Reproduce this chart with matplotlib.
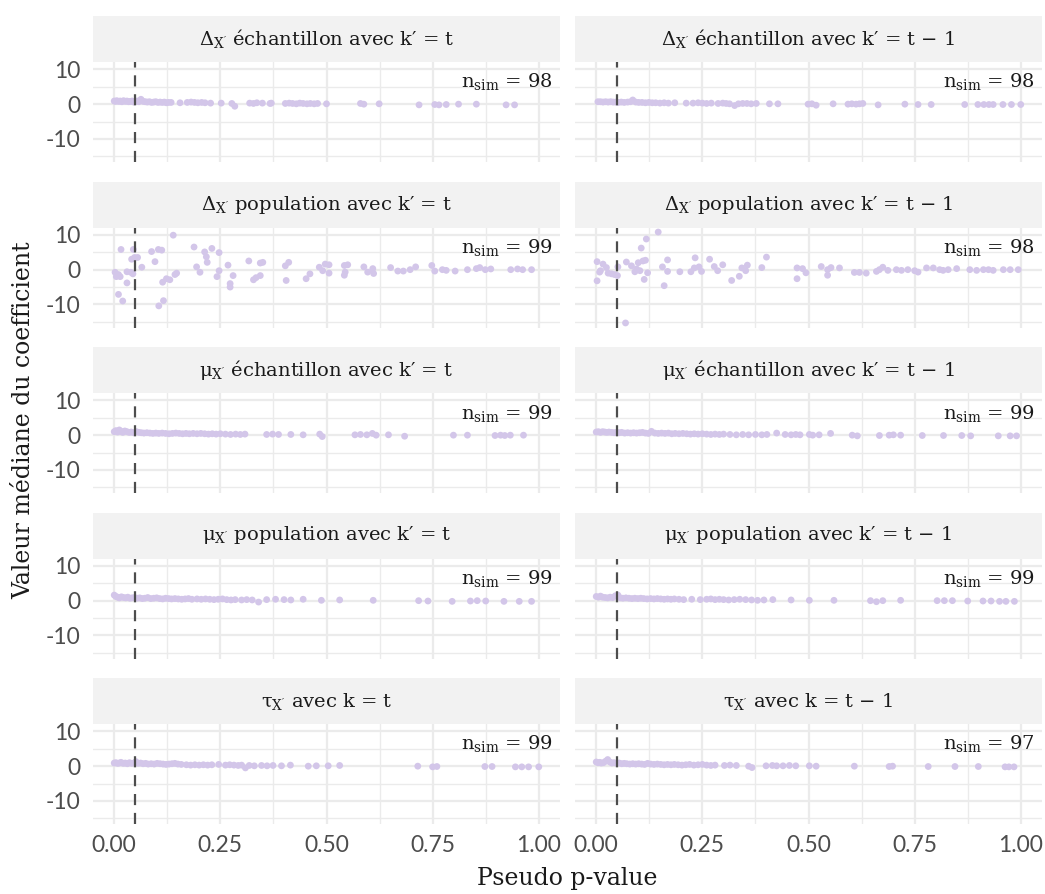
import matplotlib
matplotlib.use("Agg")
import matplotlib.pyplot as plt

plt.rcParams['mathtext.fontset'] = 'custom'
plt.rcParams['mathtext.rm'] = 'DejaVu Serif'
plt.rcParams['mathtext.it'] = 'DejaVu Serif:italic'

# ---- data: (pseudo p-value, median coefficient) per panel ----
dx_ech_t_x = [0.000, 0.003, 0.006, 0.010, 0.014, 0.018, 0.022, 0.026, 0.030, 0.034,
              0.038, 0.042, 0.046, 0.050, 0.054, 0.058, 0.063, 0.068, 0.073, 0.078,
              0.083, 0.088, 0.093, 0.098, 0.103, 0.108, 0.113, 0.118, 0.123, 0.128,
              0.134, 0.155, 0.172, 0.181, 0.189, 0.197, 0.206, 0.214, 0.227, 0.252,
              0.277, 0.284, 0.319, 0.328, 0.336, 0.349, 0.367, 0.370, 0.403, 0.412,
              0.420, 0.429, 0.437, 0.445, 0.454, 0.462, 0.471, 0.479, 0.500, 0.580,
              0.588, 0.624, 0.718, 0.755, 0.765, 0.782, 0.811, 0.853, 0.923, 0.943]
dx_ech_t_y = [0.9, 0.8, 1.0, 0.8, 0.9, 0.7, 1.0, 0.8, 0.9, 0.7,
              0.8, 0.9, 0.6, 0.8, 0.9, 0.7, 1.4, 0.8, 0.7, 0.6,
              0.7, 0.5, 0.6, 0.7, 0.5, 0.6, 0.5, 0.6, 0.4, 0.5,
              0.5, 0.4, 0.5, 0.6, 0.5, 0.4, 0.5, 0.4, 0.3, 0.3,
              0.2, -0.6, 0.3, 0.2, 0.4, 0.3, 0.2, 0.3, 0.2, 0.3,
              0.2, 0.1, 0.3, 0.2, 0.1, 0.2, 0.1, 0.2, 0.1, 0.2,
              0.0, 0.1, -0.2, -0.1, -0.2, -0.1, 0.0, 0.0, -0.2, -0.2]

dx_ech_t1_x = [0.004, 0.010, 0.016, 0.022, 0.028, 0.034, 0.040, 0.046, 0.052, 0.059,
               0.066, 0.074, 0.081, 0.086, 0.093, 0.100, 0.108, 0.116, 0.124, 0.132,
               0.140, 0.150, 0.160, 0.170, 0.185, 0.212, 0.228, 0.240, 0.250, 0.260,
               0.271, 0.287, 0.298, 0.306, 0.314, 0.326, 0.335, 0.345, 0.355, 0.365,
               0.377, 0.408, 0.428, 0.499, 0.508, 0.518, 0.558, 0.593, 0.602, 0.612,
               0.620, 0.628, 0.664, 0.727, 0.758, 0.789, 0.868, 0.899, 0.913, 0.925,
               0.935, 0.958, 0.978, 1.000]
dx_ech_t1_y = [0.7, 0.7, 0.6, 0.7, 0.6, 0.7, 0.6, 0.6, 0.5, 0.6,
               0.5, 0.6, 0.7, 1.2, 0.6, 0.5, 0.5, 0.4, 0.5, 0.4,
               0.4, 0.3, 0.4, 0.3, 0.4, 0.3, 0.3, 0.4, 0.3, 0.2,
               0.3, 0.2, 0.3, 0.2, 0.1, -0.4, 0.1, 0.2, 0.2, 0.1,
               0.2, 0.1, 0.1, 0.0, 0.1, -0.3, 0.1, 0.0, 0.1, 0.0,
               0.1, 0.2, -0.2, 0.0, -0.1, -0.1, -0.1, -0.1, -0.1, -0.1,
               -0.1, -0.1, -0.1, -0.1]

dx_pop_t_x = [0.002, 0.005, 0.010, 0.014, 0.010, 0.016, 0.020, 0.030, 0.030, 0.039,
              0.041, 0.044, 0.045, 0.048, 0.055, 0.065, 0.088, 0.096, 0.104, 0.112,
              0.105, 0.116, 0.114, 0.123, 0.131, 0.139, 0.143, 0.147, 0.188, 0.194,
              0.202, 0.213, 0.217, 0.219, 0.230, 0.247, 0.247, 0.242, 0.268, 0.280,
              0.273, 0.273, 0.317, 0.328, 0.334, 0.344, 0.344, 0.350, 0.405, 0.403,
              0.411, 0.452, 0.461, 0.483, 0.491, 0.497, 0.506, 0.506, 0.542, 0.550,
              0.542, 0.544, 0.588, 0.597, 0.609, 0.611, 0.651, 0.668, 0.681, 0.697,
              0.710, 0.748, 0.755, 0.773, 0.782, 0.803, 0.832, 0.853, 0.861, 0.874,
              0.887, 0.934, 0.950, 0.962, 0.983]
dx_pop_t_y = [-0.75, -2.0, -1.4, -2.0, -7.1, 5.8, -9.0, -0.6, -3.8, -0.75,
              3.0, -1.2, 5.8, 3.5, 3.5, 0.7, 5.2, 2.3, 5.8, 5.6,
              -10.4, -8.9, -3.6, -2.6, -2.9, 9.9, -1.4, -1.0, 6.5, 0.8,
              -0.75, 5.1, 3.7, 2.1, 6.1, 4.9, -0.3, -2.0, 1.3, -1.7,
              -4.0, -5.0, 2.5, -2.9, -2.3, -1.7, 1.9, 2.1, -3.1, 1.1,
              2.1, -2.6, -1.2, 0.7, -0.3, 1.6, -1.0, 1.4, 1.2, 1.4,
              -1.6, -0.7, 0.8, -0.7, 0.3, -1.1, 0.6, -0.4, -0.4, 0.0,
              0.8, 1.2, -0.4, 0.0, -0.2, -0.4, 0.0, 0.3, 0.6, 0.0,
              0.2, 0.0, 0.2, 0.0, 0.0]

dx_pop_t1_x = [0.002, 0.002, 0.008, 0.010, 0.016, 0.024, 0.028, 0.036, 0.043, 0.050,
               0.051, 0.069, 0.071, 0.083, 0.091, 0.095, 0.099, 0.103, 0.106, 0.110,
               0.113, 0.116, 0.118, 0.121, 0.146, 0.156, 0.160, 0.168, 0.168, 0.197,
               0.223, 0.231, 0.233, 0.242, 0.248, 0.267, 0.278, 0.286, 0.298, 0.319,
               0.337, 0.343, 0.352, 0.356, 0.390, 0.401, 0.473, 0.473, 0.486, 0.494,
               0.530, 0.545, 0.545, 0.553, 0.573, 0.608, 0.620, 0.636, 0.660, 0.667,
               0.675, 0.687, 0.707, 0.719, 0.734, 0.750, 0.758, 0.778, 0.794, 0.809,
               0.817, 0.829, 0.849, 0.880, 0.896, 0.912, 0.924, 0.935, 0.959, 0.975,
               0.994]
dx_pop_t1_y = [2.3, -3.2, -0.7, -0.3, 1.6, 0.6, -1.0, -1.2, -1.4, -1.7,
               0.8, -15.3, 2.2, 1.1, -0.6, 0.2, 2.0, -0.3, 6.2, 2.5,
               -2.8, 2.7, 8.8, -0.9, 10.8, 0.8, -4.6, 2.8, -0.5, -0.6,
               -0.6, 0.5, 3.4, 0.8, -0.5, 3.0, 0.9, -0.3, 1.4, -3.1,
               -1.9, 0.5, -0.3, 1.3, 0.6, 3.6, 0.5, -2.6, 0.3, -0.9,
               0.9, 0.0, -1.6, 0.6, 0.5, -0.8, -0.8, -1.0, -0.5, 0.0,
               0.7, -0.2, 0.0, -0.2, 0.0, -0.3, -0.7, 0.5, 0.5, 0.0,
               -0.2, 0.0, 0.3, 0.0, -0.2, 0.0, 0.0, -0.2, 0.0, 0.0,
               0.0]

mu_ech_t_x = [0.000, 0.004, 0.008, 0.012, 0.016, 0.020, 0.025, 0.030, 0.035, 0.040,
              0.046, 0.052, 0.058, 0.064, 0.070, 0.077, 0.084, 0.091, 0.098, 0.105,
              0.113, 0.121, 0.129, 0.137, 0.145, 0.153, 0.161, 0.169, 0.177, 0.186,
              0.195, 0.204, 0.213, 0.222, 0.231, 0.240, 0.250, 0.262, 0.274, 0.286,
              0.297, 0.308, 0.359, 0.373, 0.387, 0.416, 0.445, 0.484, 0.490, 0.567,
              0.580, 0.595, 0.608, 0.617, 0.646, 0.684, 0.799, 0.832, 0.897, 0.910,
              0.920, 0.933, 0.964]
mu_ech_t_y = [1.0, 1.3, 0.9, 1.5, 1.1, 0.8, 1.2, 1.0, 0.8, 0.9,
              0.7, 1.0, 0.8, 0.7, 0.6, 0.7, 0.6, 0.5, 0.6, 0.5,
              0.6, 0.5, 0.4, 0.5, 0.6, 0.5, 0.4, 0.5, 0.4, 0.5,
              0.4, 0.5, 0.4, 0.3, 0.4, 0.3, 0.4, 0.3, 0.2, 0.3,
              0.2, 0.3, 0.2, 0.3, 0.2, 0.2, 0.1, 0.3, -0.4, 0.1,
              0.2, 0.1, 0.5, 0.0, 0.1, -0.3, 0.0, 0.0, -0.1, 0.0,
              -0.1, 0.0, 0.0]

mu_ech_t1_x = [0.000, 0.005, 0.010, 0.015, 0.020, 0.025, 0.030, 0.036, 0.042, 0.048,
               0.054, 0.060, 0.067, 0.074, 0.081, 0.088, 0.095, 0.102, 0.109, 0.116,
               0.123, 0.130, 0.138, 0.146, 0.154, 0.162, 0.170, 0.178, 0.186, 0.195,
               0.204, 0.213, 0.222, 0.231, 0.240, 0.250, 0.260, 0.270, 0.280, 0.290,
               0.300, 0.315, 0.330, 0.345, 0.359, 0.375, 0.390, 0.402, 0.425, 0.445,
               0.459, 0.470, 0.480, 0.502, 0.510, 0.525, 0.552, 0.603, 0.615, 0.667,
               0.690, 0.700, 0.717, 0.768, 0.818, 0.861, 0.882, 0.947, 0.975, 0.990]
mu_ech_t1_y = [0.9, 1.0, 0.8, 1.0, 0.9, 0.8, 0.9, 0.8, 0.7, 0.8,
               0.7, 0.8, 0.6, 0.7, 0.6, 0.7, 0.6, 0.7, 0.8, 0.6,
               0.5, 1.1, 0.6, 0.5, 0.6, 0.5, 0.6, 0.4, 0.5, 0.4,
               0.5, 0.4, 0.3, 0.4, 0.3, 0.4, 0.3, 0.2, 0.3, 0.2,
               0.3, 0.2, 0.1, 0.2, 0.1, 0.2, 0.1, 0.2, 0.6, 0.2,
               0.1, 0.2, 0.1, 0.2, 0.0, 0.1, 0.5, 0.0, -0.2, -0.1,
               0.0, 0.1, 0.0, -0.1, -0.1, -0.1, -0.2, -0.2, -0.2, -0.2]

mu_pop_t_x = [0.000, 0.004, 0.008, 0.012, 0.017, 0.022, 0.027, 0.032, 0.037, 0.042,
              0.048, 0.054, 0.060, 0.066, 0.072, 0.079, 0.086, 0.093, 0.100, 0.107,
              0.114, 0.121, 0.128, 0.135, 0.143, 0.151, 0.159, 0.167, 0.175, 0.183,
              0.195, 0.205, 0.215, 0.225, 0.235, 0.245, 0.255, 0.265, 0.275, 0.285,
              0.300, 0.312, 0.325, 0.340, 0.359, 0.380, 0.400, 0.416, 0.445, 0.488,
              0.531, 0.610, 0.717, 0.739, 0.796, 0.839, 0.855, 0.875, 0.918, 0.954,
              0.983]
mu_pop_t_y = [1.6, 1.2, 1.0, 0.8, 1.1, 0.9, 0.8, 1.0, 0.7, 0.8,
              0.9, 0.7, 0.8, 0.6, 0.7, 0.9, 0.6, 0.7, 0.8, 0.6,
              0.5, 0.7, 0.6, 0.5, 0.6, 0.5, 0.4, 0.5, 0.6, 0.4,
              0.5, 0.4, 0.5, 0.4, 0.3, 0.4, 0.5, 0.3, 0.2, 0.3,
              0.2, 0.3, 0.2, -0.4, 0.3, 0.4, 0.3, 0.2, 0.4, 0.1,
              0.2, 0.1, 0.0, -0.1, -0.2, -0.1, 0.0, -0.1, -0.2, -0.2,
              -0.2]

mu_pop_t1_x = [0.000, 0.005, 0.010, 0.015, 0.021, 0.027, 0.033, 0.039, 0.045, 0.051,
               0.057, 0.063, 0.070, 0.077, 0.084, 0.091, 0.098, 0.105, 0.112, 0.120,
               0.128, 0.136, 0.144, 0.152, 0.160, 0.168, 0.176, 0.184, 0.195, 0.206,
               0.225, 0.245, 0.260, 0.270, 0.280, 0.290, 0.300, 0.312, 0.325, 0.338,
               0.352, 0.366, 0.380, 0.395, 0.416, 0.459, 0.502, 0.560, 0.646, 0.660,
               0.675, 0.717, 0.803, 0.820, 0.839, 0.875, 0.911, 0.930, 0.950, 0.965,
               0.985]
mu_pop_t1_y = [1.2, 1.0, 1.3, 1.0, 0.9, 0.8, 1.0, 0.9, 1.4, 1.6,
               0.8, 0.7, 0.8, 0.7, 0.6, 0.7, 0.6, 0.7, 0.6, 0.5,
               0.6, 0.5, 0.6, 0.5, 0.4, 0.5, 0.4, 0.5, 0.4, 0.3,
               0.4, 0.3, 0.4, 0.5, 0.3, 0.4, 0.3, 0.2, 0.3, 0.4,
               0.3, 0.2, 0.1, 0.2, 0.3, 0.2, 0.1, 0.1, 0.0, -0.3,
               0.0, 0.1, 0.0, 0.0, 0.0, -0.1, -0.1, -0.1, -0.2, -0.2,
               -0.2]

tau_t_x = [0.000, 0.004, 0.008, 0.012, 0.016, 0.021, 0.026, 0.031, 0.036, 0.041,
           0.046, 0.051, 0.056, 0.062, 0.068, 0.074, 0.080, 0.087, 0.094, 0.101,
           0.108, 0.115, 0.122, 0.129, 0.136, 0.143, 0.150, 0.158, 0.170, 0.180,
           0.190, 0.200, 0.210, 0.220, 0.230, 0.246, 0.262, 0.272, 0.282, 0.292,
           0.300, 0.309, 0.318, 0.330, 0.347, 0.360, 0.374, 0.394, 0.415, 0.457,
           0.476, 0.504, 0.531, 0.715, 0.750, 0.760, 0.873, 0.890, 0.945, 0.960,
           0.976, 1.000]
tau_t_y = [0.9, 1.0, 0.8, 0.9, 1.1, 0.8, 0.9, 0.7, 1.0, 0.8,
           0.9, 1.3, 0.8, 0.9, 0.7, 0.8, 0.6, 0.7, 0.6, 0.8,
           0.7, 0.6, 0.5, 0.6, 0.7, 0.8, 0.6, 0.5, 0.4, 0.3,
           0.4, 0.3, 0.4, 0.3, 0.4, 0.5, 0.3, 0.4, 0.3, 0.2,
           0.3, -0.5, 0.2, 0.1, 0.2, 0.1, 0.2, 0.1, 0.3, 0.0,
           0.1, 0.1, 0.2, 0.0, -0.2, -0.1, -0.1, -0.1, -0.2, -0.2,
           -0.2, -0.2]

tau_t1_x = [0.000, 0.004, 0.008, 0.012, 0.017, 0.022, 0.027, 0.032, 0.037, 0.042,
            0.048, 0.054, 0.060, 0.066, 0.072, 0.079, 0.086, 0.093, 0.100, 0.107,
            0.114, 0.121, 0.128, 0.136, 0.144, 0.152, 0.160, 0.168, 0.176, 0.184,
            0.193, 0.202, 0.211, 0.220, 0.230, 0.240, 0.250, 0.260, 0.270, 0.280,
            0.302, 0.315, 0.330, 0.359, 0.367, 0.400, 0.415, 0.425, 0.440, 0.455,
            0.470, 0.502, 0.518, 0.608, 0.690, 0.698, 0.782, 0.845, 0.900, 0.963,
            0.972, 0.984]
tau_t1_y = [1.2, 1.0, 1.1, 0.9, 1.0, 1.4, 1.9, 1.2, 0.9, 1.0,
            0.8, 0.9, 0.7, 0.8, 0.7, 0.6, 0.7, 0.6, 0.7, 0.6,
            0.5, 0.8, 0.6, 0.5, 0.6, 0.5, 0.4, 0.5, 0.4, 0.5,
            0.4, 0.3, 0.4, 0.5, 0.3, 0.4, 0.5, 0.3, 0.2, 0.3,
            0.2, 0.3, 0.2, 0.0, -0.4, 0.1, 0.2, 0.1, 0.1, 0.2,
            0.1, 0.1, 0.0, 0.0, -0.1, 0.0, -0.1, -0.1, -0.1, -0.2,
            -0.2, -0.2]

titles = [
    r"$\mathrm{\Delta}_{\mathrm{X'}}$ échantillon avec k′ = t",
    r"$\mathrm{\Delta}_{\mathrm{X'}}$ échantillon avec k′ = t − 1",
    r"$\mathrm{\Delta}_{\mathrm{X'}}$ population avec k′ = t",
    r"$\mathrm{\Delta}_{\mathrm{X'}}$ population avec k′ = t − 1",
    r"$\mathrm{\mu}_{\mathrm{X'}}$ échantillon avec k′ = t",
    r"$\mathrm{\mu}_{\mathrm{X'}}$ échantillon avec k′ = t − 1",
    r"$\mathrm{\mu}_{\mathrm{X'}}$ population avec k′ = t",
    r"$\mathrm{\mu}_{\mathrm{X'}}$ population avec k′ = t − 1",
    r"$\mathrm{\tau}_{\mathrm{X'}}$ avec k = t",
    r"$\mathrm{\tau}_{\mathrm{X'}}$ avec k = t − 1",
]
n_sim = [98, 98, 99, 98, 99, 99, 99, 99, 99, 97]
xs = [dx_ech_t_x, dx_ech_t1_x, dx_pop_t_x, dx_pop_t1_x, mu_ech_t_x,
      mu_ech_t1_x, mu_pop_t_x, mu_pop_t1_x, tau_t_x, tau_t1_x]
ys = [dx_ech_t_y, dx_ech_t1_y, dx_pop_t_y, dx_pop_t1_y, mu_ech_t_y,
      mu_ech_t1_y, mu_pop_t_y, mu_pop_t1_y, tau_t_y, tau_t1_y]
threshold = 0.05

# shared y range with ggplot-like 5% expansion
all_y = [v for col in ys for v in col]
lo, hi = min(all_y), max(all_y)
pad = 0.05 * (hi - lo)
ylim = (lo - pad, hi + pad)

W, H = 1045, 894
fig = plt.figure(figsize=(W / 100, H / 100), dpi=100)

col_left = [93, 575]
panel_w = 467
strip_top0 = 16
pitch = 165.5
strip_h = 46
panel_h = 100

serif = 'DejaVu Serif'
grid_col = '#EBEBEB'
pt_col = '#D3C6E9'

for i in range(10):
    r, c = divmod(i, 2)
    x0 = col_left[c]
    st = strip_top0 + pitch * r
    # strip
    sax = fig.add_axes([x0 / W, 1 - (st + strip_h) / H, panel_w / W, strip_h / H])
    sax.set_facecolor('#F2F2F2')
    sax.set_xticks([]); sax.set_yticks([])
    for s in sax.spines.values():
        s.set_visible(False)
    sax.text(0.5, 0.5, titles[i], ha='center', va='center', fontsize=14,
             family=serif, color='#1A1A1A', transform=sax.transAxes)

    # panel
    ax = fig.add_axes([x0 / W, 1 - (st + strip_h + panel_h) / H, panel_w / W, panel_h / H])
    ax.scatter(xs[i], ys[i], s=24, color=pt_col, edgecolors='none', zorder=2)
    ax.axvline(threshold, color='#4D4D4D', lw=1.6, ls=(0, (5, 3.5)), zorder=3)
    ax.set_xlim(-0.05, 1.05)
    ax.set_ylim(*ylim)
    ax.set_xticks([0, 0.25, 0.5, 0.75, 1.0])
    ax.set_xticks([0.125, 0.375, 0.625, 0.875], minor=True)
    ax.set_yticks([-10, 0, 10])
    ax.set_yticks([-15, -5, 5], minor=True)
    ax.grid(which='major', color=grid_col, lw=1.6, zorder=0)
    ax.grid(which='minor', color=grid_col, lw=1.0, zorder=0)
    ax.set_axisbelow(True)
    for s in ax.spines.values():
        s.set_visible(False)
    ax.tick_params(which='both', length=0, labelsize=16.5, labelcolor='#4D4D4D')
    ax.tick_params(axis='y', pad=9)
    ax.tick_params(axis='x', pad=8)
    if c == 0:
        ax.set_yticklabels(['-10', '0', '10'], family='Lato')
    else:
        ax.set_yticklabels([])
    if r == 4:
        ax.set_xticklabels(['0.00', '0.25', '0.50', '0.75', '1.00'], family='Lato')
    else:
        ax.set_xticklabels([])
    ax.text(0.985, 0.80, r"$\mathrm{n}_{\mathrm{sim}}$" + f" = {n_sim[i]}",
            ha='right', va='center', fontsize=14, family=serif, color='#1A1A1A',
            transform=ax.transAxes)

fig.text(567 / W, 1 - 879 / H, 'Pseudo p-value', ha='center', va='center',
         fontsize=17, family=serif, color='#1A1A1A')
fig.text(24 / W, 1 - 420 / H, 'Valeur médiane du coefficient', ha='center', va='center',
         rotation=90, fontsize=17, family=serif, color='#1A1A1A')

fig.savefig('out.png', dpi=100)
